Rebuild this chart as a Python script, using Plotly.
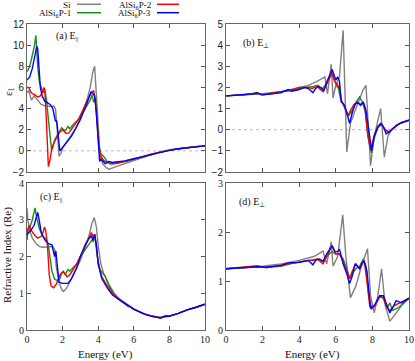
import plotly.graph_objects as go

series_names = ["Si", "AlSi<sub>6</sub>P-1", "AlSi<sub>6</sub>P-2", "AlSi<sub>6</sub>P-3"]
series_colors = ["#808080", "#1a8c1a", "#ff0000", "#0000ff"]

# ---------------- panel (a): eps1, E parallel ----------------
a_si_E = [0, 0.1, 0.25, 0.4, 0.6, 0.8, 1.0, 1.2, 1.4, 1.5, 1.6, 1.7, 1.8, 1.9, 2.0, 2.2, 2.4, 2.7, 3.0, 3.2, 3.4, 3.55, 3.7, 3.8, 3.9, 4.0, 4.1, 4.25, 4.4, 4.6, 4.8, 5.0, 5.5, 6.0, 6.5, 7.0, 7.5, 8.0, 8.5, 9.0, 9.5, 10.0]
a_si_v = [5.5, 5.7, 4.8, 5.2, 4.8, 4.4, 4.25, 4.2, 4.2, 4.25, 4.0, 2.0, -0.5, -0.3, 0.3, 0.8, 1.3, 2.0, 3.0, 4.0, 5.0, 6.0, 7.5, 8.0, 5.5, 2.0, -0.3, -1.2, -1.5, -1.75, -1.6, -1.5, -1.2, -0.9, -0.6, -0.35, -0.1, 0.1, 0.2, 0.3, 0.4, 0.5]
a_p1_E = [0, 0.1, 0.2, 0.3, 0.4, 0.5, 0.55, 0.6, 0.7, 0.8, 0.9, 1.0, 1.1, 1.2, 1.3, 1.38, 1.45, 1.55, 1.7, 1.85, 1.95, 2.05, 2.15, 2.3, 2.4, 2.6, 2.9, 3.2, 3.4, 3.55, 3.65, 3.75, 3.85, 3.95, 4.05, 4.15, 4.3, 4.5, 4.8, 5.2, 5.6, 6.0, 6.5, 7.0, 7.5, 8.0, 8.5, 9.0, 9.5, 10]
a_p1_v = [7.5, 7.8, 8.3, 9.0, 9.8, 10.9, 9.5, 8.0, 6.5, 6.0, 5.5, 5.8, 4.8, 3.0, 1.0, 0.1, 0.3, 1.0, 1.5, 2.0, 2.2, 2.0, 1.9, 2.3, 2.1, 2.5, 3.0, 3.8, 4.3, 4.8, 5.3, 4.6, 5.0, 2.5, 0.5, -0.3, -0.5, -1.0, -1.2, -1.1, -1.0, -0.8, -0.55, -0.3, -0.1, 0.05, 0.2, 0.3, 0.4, 0.47]
a_p2_E = [0, 0.1, 0.2, 0.3, 0.45, 0.6, 0.75, 0.85, 0.95, 1.0, 1.1, 1.2, 1.3, 1.4, 1.55, 1.7, 1.85, 2.0, 2.1, 2.2, 2.35, 2.5, 2.7, 2.9, 3.2, 3.4, 3.6, 3.75, 3.85, 3.95, 4.05, 4.15, 4.3, 4.5, 4.7, 5.0, 5.5, 6.0, 6.5, 7.0, 7.5, 8.0, 8.5, 9.0, 9.5, 10]
a_p2_v = [6.0, 6.0, 5.6, 5.4, 5.3, 5.1, 5.2, 5.5, 6.0, 5.8, 2.5, -1.5, -0.8, 0.3, 0.9, 1.4, 1.8, 2.0, 1.8, 1.65, 1.7, 2.0, 2.5, 3.0, 4.0, 4.8, 5.5, 5.7, 4.5, 2.0, 0.3, -0.5, -0.9, -1.1, -1.25, -1.2, -1.0, -0.75, -0.55, -0.3, -0.1, 0.05, 0.2, 0.3, 0.4, 0.47]
a_p3_E = [0, 0.15, 0.3, 0.45, 0.55, 0.6, 0.65, 0.75, 0.85, 1.0, 1.2, 1.35, 1.45, 1.5, 1.55, 1.6, 1.65, 1.7, 1.78, 1.85, 1.95, 2.1, 2.3, 2.5, 2.7, 3.0, 3.3, 3.5, 3.6, 3.7, 3.8, 3.9, 4.0, 4.08, 4.15, 4.25, 4.4, 4.6, 4.8, 5.0, 5.5, 6.0, 6.5, 7.0, 7.5, 8.0, 8.5, 9.0, 9.5, 10]
a_p3_v = [6.7, 7.0, 7.8, 9.0, 9.9, 9.7, 8.0, 6.0, 5.2, 4.7, 4.5, 4.3, 4.0, 3.6, 3.0, 2.8, 2.9, 2.4, 1.0, 0.0, 0.2, 0.5, 0.9, 1.4, 2.0, 3.0, 4.2, 5.2, 5.6, 5.4, 5.2, 3.5, 0.5, -1.0, -0.8, -1.0, -1.2, -1.0, -1.1, -1.05, -0.95, -0.75, -0.55, -0.3, -0.1, 0.05, 0.2, 0.3, 0.4, 0.47]

# ---------------- panel (b): eps1, E perpendicular ----------------
b_si_E = [0, 1, 2, 3, 3.5, 4, 4.5, 5.0, 5.4, 5.55, 5.75, 5.85, 6.0, 6.2, 6.4, 6.6, 6.8, 7.1, 7.3, 7.5, 7.65, 7.9, 8.1, 8.3, 8.45, 8.65, 8.85, 9.05, 9.3, 9.6, 10]
b_si_v = [1.6, 1.65, 1.7, 1.8, 1.9, 2.0, 2.1, 2.3, 2.5, 1.7, 3.1, 1.5, 2.1, 2.5, 4.7, -1.05, 0.3, 1.0, 1.5, 1.9, 2.1, -1.7, -0.3, 0.5, 1.0, -1.3, -0.3, 0.0, 0.2, 0.33, 0.45]
b_p1_E = [0, 1.0, 1.5, 1.7, 2.0, 2.5, 3.0, 3.5, 4.0, 4.5, 4.8, 5.0, 5.3, 5.5, 5.65, 5.8, 5.95, 6.1, 6.25, 6.4, 6.55, 6.7, 6.9, 7.1, 7.3, 7.45, 7.6, 7.75, 7.95, 8.1, 8.3, 8.5, 8.7, 8.9, 9.1, 9.4, 9.7, 10]
b_p1_v = [1.6, 1.65, 1.7, 1.7, 1.65, 1.7, 1.8, 1.85, 1.95, 2.0, 2.05, 2.1, 1.95, 2.2, 2.5, 2.6, 2.25, 2.15, 1.5, 1.2, 0.9, 0.65, 0.9, 1.3, 1.55, 1.3, 0.9, -0.2, -1.1, -0.4, 0.1, 0.25, 0.0, -0.15, 0.05, 0.25, 0.35, 0.45]
b_p2_E = [0, 1.0, 1.5, 1.7, 1.9, 2.2, 2.6, 3.0, 3.5, 4.0, 4.5, 4.7, 4.85, 5.0, 5.15, 5.3, 5.45, 5.65, 5.8, 5.95, 6.1, 6.2, 6.3, 6.5, 6.65, 6.8, 7.0, 7.2, 7.35, 7.5, 7.6, 7.75, 7.9, 8.1, 8.3, 8.5, 8.7, 8.9, 9.2, 9.5, 10]
b_p2_v = [1.6, 1.65, 1.72, 1.75, 1.65, 1.68, 1.75, 1.8, 1.85, 2.0, 2.0, 1.95, 2.0, 2.05, 1.9, 1.8, 2.05, 2.4, 2.7, 2.3, 2.0, 2.05, 1.4, 1.05, 0.65, 0.9, 1.2, 1.3, 1.2, 1.3, 1.0, -0.3, -0.95, -0.3, 0.15, 0.25, 0.0, -0.1, 0.1, 0.3, 0.45]
b_p3_E = [0, 1.0, 1.5, 1.7, 2.0, 2.5, 3.0, 3.4, 3.6, 4.0, 4.3, 4.5, 4.75, 4.9, 5.05, 5.2, 5.35, 5.5, 5.65, 5.8, 5.9, 6.0, 6.1, 6.2, 6.3, 6.45, 6.6, 6.75, 6.9, 7.05, 7.2, 7.35, 7.5, 7.65, 7.8, 7.95, 8.1, 8.3, 8.45, 8.6, 8.75, 9.0, 9.3, 9.6, 10]
b_p3_v = [1.6, 1.65, 1.7, 1.75, 1.65, 1.7, 1.75, 1.9, 1.82, 1.9, 2.0, 1.95, 1.75, 1.95, 2.05, 1.95, 1.85, 2.25, 2.55, 2.85, 2.6, 2.35, 2.5, 2.3, 1.3, 1.2, 0.8, 0.3, 0.8, 1.2, 1.3, 1.15, 1.3, 0.9, 0.0, -1.0, -0.3, 0.15, 0.3, 0.15, -0.2, -0.05, 0.2, 0.35, 0.45]

# ---------------- panel (c): refractive index, E parallel ----------------
c_si_E = [0, 0.05, 0.15, 0.3, 0.5, 0.7, 0.9, 1.2, 1.45, 1.55, 1.65, 1.8, 1.95, 2.05, 2.2, 2.4, 2.7, 3.0, 3.3, 3.5, 3.65, 3.78, 3.9, 4.0, 4.15, 4.3, 4.6, 4.9, 5.2, 5.6, 6.0, 6.5, 7.0, 7.5, 8.0, 8.5, 9.0, 9.5, 10]
c_si_v = [3.32, 3.0, 2.7, 2.5, 2.35, 2.27, 2.25, 2.25, 2.27, 2.2, 1.7, 1.3, 1.1, 1.05, 1.12, 1.3, 1.6, 1.9, 2.3, 2.6, 2.9, 3.06, 2.8, 2.3, 1.8, 1.55, 1.25, 1.0, 0.85, 0.7, 0.57, 0.46, 0.38, 0.34, 0.37, 0.45, 0.55, 0.62, 0.7]
c_p1_E = [0, 0.1, 0.2, 0.3, 0.45, 0.55, 0.7, 0.9, 1.1, 1.2, 1.3, 1.4, 1.55, 1.7, 1.85, 1.95, 2.05, 2.15, 2.3, 2.4, 2.6, 2.8, 3.0, 3.3, 3.5, 3.65, 3.72, 3.8, 3.95, 4.1, 4.25, 4.4, 4.6, 4.8, 5.0, 5.3, 5.6, 5.75, 6.0, 6.3, 6.6, 7.0, 7.5, 7.8, 8.0, 8.5, 9.0, 9.5, 10]
c_p1_v = [2.65, 2.75, 2.85, 3.0, 3.32, 3.05, 2.75, 2.55, 2.45, 2.3, 2.0, 1.6, 1.38, 1.35, 1.4, 1.55, 1.6, 1.5, 1.65, 1.6, 1.7, 1.8, 2.0, 2.2, 2.35, 2.45, 2.4, 2.6, 2.0, 1.65, 1.55, 1.45, 1.2, 1.05, 0.9, 0.78, 0.68, 0.64, 0.57, 0.5, 0.43, 0.38, 0.34, 0.39, 0.38, 0.45, 0.55, 0.62, 0.7]
c_p2_E = [0, 0.05, 0.12, 0.25, 0.4, 0.6, 0.8, 0.9, 0.98, 1.05, 1.15, 1.25, 1.35, 1.5, 1.65, 1.85, 2.0, 2.1, 2.25, 2.4, 2.8, 3.2, 3.5, 3.62, 3.7, 3.8, 3.9, 4.0, 4.2, 4.5, 4.8, 5.1, 5.4, 5.65, 5.8, 6.0, 6.3, 6.6, 7.0, 7.5, 7.8, 8.0, 8.5, 9.0, 9.5, 10]
c_p2_v = [2.45, 2.75, 2.85, 2.7, 2.6, 2.5, 2.55, 2.65, 2.8, 2.7, 2.3, 1.5, 1.2, 1.15, 1.25, 1.5, 1.58, 1.55, 1.45, 1.5, 1.8, 2.2, 2.5, 2.65, 2.55, 2.6, 2.3, 1.8, 1.45, 1.2, 1.0, 0.85, 0.75, 0.65, 0.63, 0.56, 0.5, 0.43, 0.38, 0.32, 0.38, 0.38, 0.45, 0.55, 0.62, 0.7]
c_p3_E = [0, 0.2, 0.4, 0.5, 0.6, 0.7, 0.8, 1.0, 1.2, 1.4, 1.5, 1.55, 1.62, 1.7, 1.8, 2.0, 2.3, 2.5, 2.8, 3.0, 3.3, 3.5, 3.62, 3.7, 3.8, 3.9, 4.0, 4.2, 4.5, 4.8, 5.1, 5.4, 5.7, 6.0, 6.2, 6.6, 7.0, 7.5, 7.8, 8.0, 8.5, 9.0, 9.5, 10]
c_p3_v = [2.6, 2.7, 2.85, 3.0, 3.2, 2.95, 2.65, 2.45, 2.35, 2.32, 2.05, 2.0, 2.15, 1.7, 1.3, 1.27, 1.27, 1.4, 1.7, 2.0, 2.35, 2.5, 2.55, 2.45, 2.6, 2.3, 1.8, 1.4, 1.15, 0.95, 0.85, 0.75, 0.65, 0.57, 0.52, 0.43, 0.37, 0.33, 0.38, 0.37, 0.45, 0.55, 0.62, 0.7]

# ---------------- panel (d): refractive index, E perpendicular ----------------
d_si_E = [0, 1, 2, 3, 4, 4.8, 5.3, 5.5, 5.75, 5.85, 6.1, 6.38, 6.55, 6.8, 7.1, 7.4, 7.73, 7.9, 8.1, 8.3, 8.5, 8.7, 8.96, 9.2, 9.6, 10]
d_si_v = [1.25, 1.28, 1.3, 1.35, 1.42, 1.5, 1.61, 1.35, 1.8, 1.3, 1.5, 2.35, 1.5, 0.66, 0.9, 1.3, 1.66, 0.7, 0.35, 0.7, 1.25, 0.5, 0.18, 0.3, 0.5, 0.65]
d_p1_E = [0, 1, 1.8, 2.2, 3, 3.5, 4.2, 4.5, 4.8, 5.0, 5.3, 5.5, 5.8, 6.0, 6.2, 6.4, 6.6, 6.75, 6.9, 7.1, 7.3, 7.5, 7.65, 7.8, 7.95, 8.15, 8.4, 8.6, 8.8, 8.95, 9.1, 9.4, 10]
d_p1_v = [1.25, 1.28, 1.29, 1.28, 1.3, 1.35, 1.4, 1.42, 1.45, 1.45, 1.4, 1.5, 1.6, 1.55, 1.55, 1.45, 1.25, 1.05, 1.15, 1.25, 1.3, 1.45, 1.3, 0.7, 0.45, 0.5, 0.7, 0.65, 0.45, 0.55, 0.4, 0.45, 0.65]
d_p2_E = [0, 1, 1.7, 2.2, 3, 3.5, 4.2, 4.5, 4.8, 5.0, 5.3, 5.5, 5.8, 6.0, 6.2, 6.4, 6.6, 6.75, 6.9, 7.1, 7.3, 7.55, 7.7, 7.85, 7.95, 8.15, 8.4, 8.6, 8.8, 8.95, 9.2, 9.5, 10]
d_p2_v = [1.25, 1.28, 1.31, 1.27, 1.32, 1.35, 1.4, 1.42, 1.42, 1.45, 1.35, 1.5, 1.72, 1.55, 1.55, 1.4, 1.2, 1.05, 1.2, 1.35, 1.25, 1.42, 1.0, 0.5, 0.43, 0.5, 0.68, 0.65, 0.45, 0.4, 0.5, 0.55, 0.65]
d_p3_E = [0, 1, 1.8, 2.2, 3, 3.4, 4.0, 4.5, 4.75, 4.9, 5.1, 5.3, 5.5, 5.8, 5.95, 6.1, 6.2, 6.4, 6.6, 6.75, 6.9, 7.05, 7.2, 7.3, 7.45, 7.55, 7.7, 7.9, 8.1, 8.4, 8.6, 8.8, 8.95, 9.1, 9.3, 9.6, 10]
d_p3_v = [1.25, 1.27, 1.29, 1.28, 1.32, 1.37, 1.38, 1.42, 1.33, 1.42, 1.45, 1.4, 1.55, 1.72, 1.6, 1.6, 1.65, 1.35, 1.15, 0.95, 1.1, 1.35, 1.3, 1.25, 1.38, 1.4, 1.2, 0.45, 0.5, 0.7, 0.7, 0.5, 0.35, 0.45, 0.6, 0.55, 0.65]

x_ticks = [0, 2, 4, 6, 8, 10]

panels = [
    ("x", "y", [(a_si_E, a_si_v), (a_p1_E, a_p1_v), (a_p2_E, a_p2_v), (a_p3_E, a_p3_v)]),
    ("x2", "y2", [(b_si_E, b_si_v), (b_p1_E, b_p1_v), (b_p2_E, b_p2_v), (b_p3_E, b_p3_v)]),
    ("x3", "y3", [(c_si_E, c_si_v), (c_p1_E, c_p1_v), (c_p2_E, c_p2_v), (c_p3_E, c_p3_v)]),
    ("x4", "y4", [(d_si_E, d_si_v), (d_p1_E, d_p1_v), (d_p2_E, d_p2_v), (d_p3_E, d_p3_v)]),
]

fig = go.Figure()
for xa, ya, data in panels:
    for (E, v), name, col in zip(data, series_names, series_colors):
        fig.add_trace(go.Scatter(x=E, y=v, mode="lines", name=name, showlegend=False,
                                 line=dict(color=col, width=1.4), xaxis=xa, yaxis=ya))

W, H = 415, 361
ML, MR, MT, MB = 27, 6, 24, 31
PW, PH = W - ML - MR, H - MT - MB

def px_x(p):  # pixel -> plot-area fraction (x)
    return (p - ML) / PW

def px_y(p):  # pixel -> plot-area fraction (y)
    return (H - MB - p) / PH

left_dom = [px_x(27), px_x(205)]
right_dom = [px_x(226), px_x(409)]
top_dom = [px_y(172), px_y(24)]
bot_dom = [px_y(330), px_y(183)]

sans = "Liberation Sans"
serif = "Liberation Serif"

def xaxis(dom, anchor, labels, fam):
    return dict(domain=dom, anchor=anchor, range=[0, 10], tickvals=x_ticks,
                showticklabels=labels, ticks="inside", ticklen=4, tickcolor="#555",
                showline=True, linecolor="#666", linewidth=1, mirror="ticks",
                showgrid=False, zeroline=False, automargin=False,
                tickfont=dict(family=fam, size=10, color="#222"))

def yaxis(dom, anchor, rng, dt, fam):
    return dict(domain=dom, anchor=anchor, range=rng, dtick=dt,
                ticks="inside", ticklen=4, tickcolor="#555",
                showline=True, linecolor="#666", linewidth=1, mirror="ticks",
                showgrid=False, zeroline=False, automargin=False,
                tickfont=dict(family=fam, size=10, color="#222"))

fig.update_layout(
    width=W, height=H, margin=dict(l=ML, r=MR, t=MT, b=MB, autoexpand=False),
    plot_bgcolor="white", paper_bgcolor="white", showlegend=False,
    xaxis=xaxis(left_dom, "y", False, sans),
    yaxis=yaxis(top_dom, "x", [-2, 12], 2, sans),
    xaxis2=xaxis(right_dom, "y2", False, sans),
    yaxis2=yaxis(top_dom, "x2", [-2, 5], 1, sans),
    xaxis3=xaxis(left_dom, "y3", True, serif),
    yaxis3=yaxis(bot_dom, "x3", [0, 4], 1, serif),
    xaxis4=xaxis(right_dom, "y4", True, serif),
    yaxis4=yaxis(bot_dom, "x4", [0, 3], 1, serif),
)

# dotted zero reference lines in the eps1 panels
for xr, yr in [("x domain", "y"), ("x2 domain", "y2")]:
    fig.add_shape(type="line", xref=xr, yref=yr, x0=0, x1=1, y0=0, y1=0,
                  line=dict(color="#bbbbbb", width=1, dash="dot"), layer="below")

ann = []
def txt(x, y, s, xanchor="center", size=10, fam=serif, angle=0, xref="paper", yref="paper"):
    ann.append(dict(x=x, y=y, xref=xref, yref=yref, text=s, showarrow=False,
                    xanchor=xanchor, yanchor="middle", textangle=angle,
                    font=dict(family=fam, size=size, color="#111")))

# panel labels
txt(0.15, 0.915, "(a) E<sub>||</sub>", "left", xref="x domain", yref="y domain")
txt(0.08, 0.87, "(b) E<sub>⊥</sub>", "left", xref="x2 domain", yref="y2 domain")
txt(0.06, 0.9, "(c) E<sub>||</sub>", "left", xref="x3 domain", yref="y3 domain")
txt(0.06, 0.87, "(d) E<sub>⊥</sub>", "left", xref="x4 domain", yref="y4 domain")

# axis titles
txt(px_x(9), px_y(92), "ε<sub>1</sub>", angle=-90, size=11)
txt(px_x(7), px_y(255), "Refractive Index (Re)", angle=-90, size=11)
txt(px_x(105), px_y(354), "Energy (eV)", size=11)
txt(px_x(312), px_y(354), "Energy (eV)", size=11)

# legend (text left of the sample line, gnuplot style)
leg_line = [(73, 101, 4.3), (73, 101, 12.7), (153, 179, 4.3), (153, 179, 12.7)]
leg_text_y = [4.6, 13.8, 5.4, 13.8]
for i, (tx, lx, ly) in enumerate(leg_line):
    txt(px_x(tx), px_y(leg_text_y[i]), series_names[i], "right", size=9)
    fig.add_shape(type="line", xref="paper", yref="paper",
                  x0=px_x(tx + 4), x1=px_x(lx), y0=px_y(ly), y1=px_y(ly),
                  line=dict(color=series_colors[i], width=1.5))

fig.update_layout(annotations=ann)
fig.write_html("out.html", config={"displayModeBar": False},
               post_script="document.body.style.margin='0';document.body.style.padding='0';")
